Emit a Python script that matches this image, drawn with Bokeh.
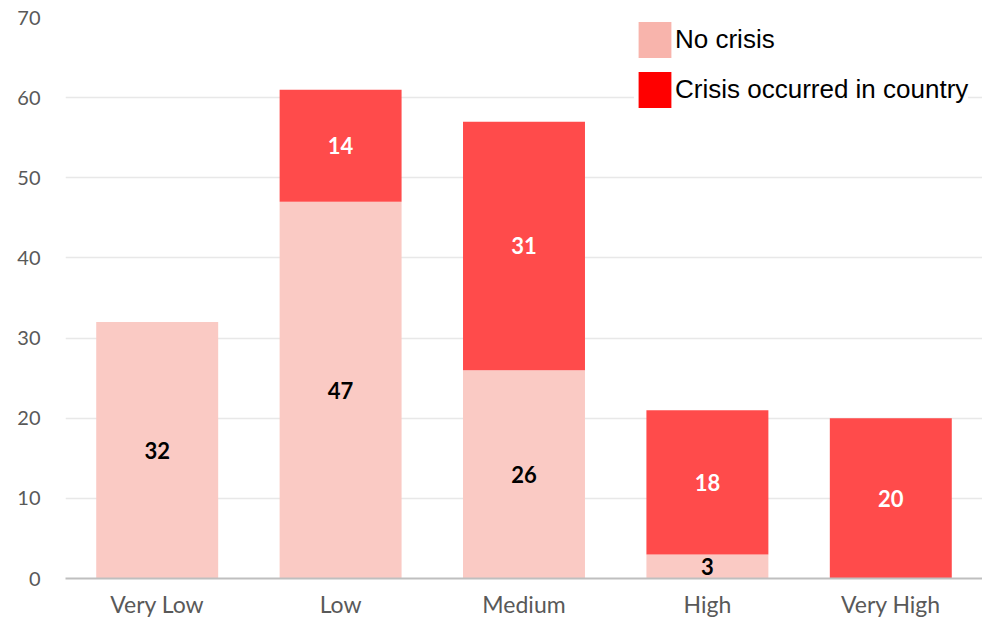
from bokeh.plotting import figure
from bokeh.models import ColumnDataSource, Legend, LegendItem, FactorRange
from bokeh.core.properties import value
from bokeh.embed import file_html
from bokeh.resources import INLINE

categories = ["Very Low", "Low", "Medium", "High", "Very High"]
no_crisis = [32, 47, 26, 3, 0]
crisis = [0, 14, 31, 18, 20]
y_ticks = [0, 10, 20, 30, 40, 50, 60, 70]
series_names = ["No crisis", "Crisis occurred in country"]

bar_colors = ["#FACAC4", "#FF4B4B"]
legend_colors = ["#F8B4AC", "#FF0000"]

p = figure(x_range=FactorRange(*categories, range_padding=0), y_range=(0, 70),
           width=982, height=620, output_backend="svg", toolbar_location=None,
           min_border_left=65, min_border_right=0, min_border_top=17, min_border_bottom=42)

bottoms2 = list(no_crisis)
tops2 = [a + b for a, b in zip(no_crisis, crisis)]
src = ColumnDataSource(dict(cat=categories, nc=no_crisis, c=crisis, b2=bottoms2, t2=tops2))
p.vbar(x="cat", bottom=0, top="nc", width=0.665, source=src, fill_color=bar_colors[0], line_color=None)
p.vbar(x="cat", bottom="b2", top="t2", width=0.665, source=src, fill_color=bar_colors[1], line_color=None)

# data labels
lab1 = ColumnDataSource(dict(
    x=[c for c, v in zip(categories, no_crisis) if v > 0],
    y=[v / 2 for v in no_crisis if v > 0],
    t=[str(v) for v in no_crisis if v > 0]))
lab2 = ColumnDataSource(dict(
    x=[c for c, v in zip(categories, crisis) if v > 0],
    y=[n + v / 2 for n, v in zip(no_crisis, crisis) if v > 0],
    t=[str(v) for v in crisis if v > 0]))
p.text(x="x", y="y", text="t", source=lab1, text_align="center", text_baseline="middle",
       text_font=value("Lato"), text_font_style="bold", text_font_size="22px", text_color="#000000")
p.text(x="x", y="y", text="t", source=lab2, text_align="center", text_baseline="middle",
       text_font=value("Lato"), text_font_style="bold", text_font_size="22px", text_color="#FFFFFF")

# legend proxies (zero-height, invisible bars used only for the legend swatches)
proxy = ColumnDataSource(dict(cat=categories[:1], z=[0]))
r_a = p.vbar(x="cat", bottom="z", top="z", width=0.665, source=proxy,
             fill_color=legend_colors[0], line_color=None)
r_b = p.vbar(x="cat", bottom="z", top="z", width=0.665, source=proxy,
             fill_color=legend_colors[1], line_color=None)
legend = Legend(items=[LegendItem(label=series_names[0], renderers=[r_a]),
                       LegendItem(label=series_names[1], renderers=[r_b])],
                location=(569, 466), padding=0, margin=0, spacing=5,
                glyph_width=41, glyph_height=45, label_standoff=0,
                label_text_font="Liberation Sans", label_text_font_size="26px",
                label_text_color="#000000", border_line_color=None,
                background_fill_color="#FFFFFF", background_fill_alpha=1.0)
p.add_layout(legend, "center")

p.yaxis.ticker = y_ticks
p.yaxis.axis_line_color = None
p.yaxis.major_tick_line_color = None
p.yaxis.minor_tick_line_color = None
p.yaxis.major_label_standoff = 19
p.yaxis.major_label_text_font = "Lato"
p.yaxis.major_label_text_font_size = "20px"
p.yaxis.major_label_text_color = "#595959"

p.xaxis.axis_line_color = "#BFBFBF"
p.xaxis.axis_line_width = 2
p.xaxis.major_tick_line_color = None
p.xaxis.minor_tick_line_color = None
p.xaxis.major_label_standoff = 5
p.xaxis.major_label_text_font = "Lato"
p.xaxis.major_label_text_font_size = "23px"
p.xaxis.major_label_text_color = "#595959"

p.xgrid.grid_line_color = None
p.ygrid.grid_line_color = "#E8E8E8"
p.ygrid.grid_line_width = 1.5
p.outline_line_color = None

open("out.html", "w").write(file_html(p, INLINE))
